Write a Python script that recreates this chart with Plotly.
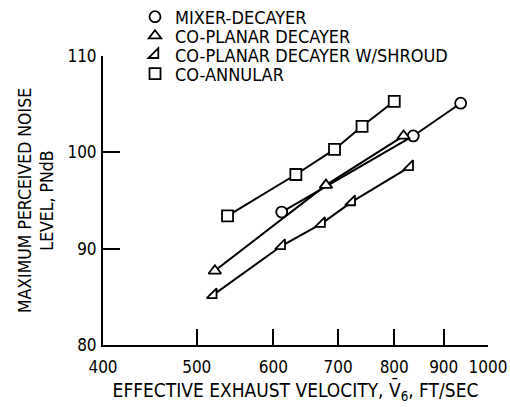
import plotly.graph_objects as go

# Data
mixer_x = [612, 837, 937]
mixer_y = [93.8, 101.7, 105.1]
coplanar_x = [522, 680, 818]
coplanar_y = [87.7, 96.6, 101.7]
shroud_x = [520, 612, 673, 723, 830]
shroud_y = [85.2, 90.3, 92.6, 94.85, 98.5]
coannular_x = [538, 633, 694, 741, 800]
coannular_y = [93.4, 97.7, 100.3, 102.7, 105.3]

series_names = ["MIXER-DECAYER", "CO-PLANAR DECAYER", "CO-PLANAR DECAYER W/SHROUD", "CO-ANNULAR"]
x_ticks = [400, 500, 600, 700, 800, 900, 1000]
y_ticks = [80, 90, 100, 110]

FONT = "DejaVu Sans Condensed, DejaVu Sans, sans-serif"

series = [
    (series_names[0], mixer_x, mixer_y, "circle"),
    (series_names[1], coplanar_x, coplanar_y, "triangle-up"),
    (series_names[2], shroud_x, shroud_y, "triangle-se"),
    (series_names[3], coannular_x, coannular_y, "square"),
]
legend_ids = ["legend", "legend2", "legend3", "legend4"]
legend_rows_px = [17, 36, 55, 74]  # legend row placement (px from top)

W, H = 510, 407
ML, MR, MT, MB = 103, 22, 56, 62
plot_h = H - MT - MB
plot_w = W - ML - MR

fig = go.Figure()
for name, xs, ys, sym in series:
    fig.add_trace(go.Scatter(x=xs, y=ys, mode="lines", line=dict(color="black", width=2),
                             showlegend=False, hoverinfo="skip"))
for (name, xs, ys, sym), lid in zip(series, legend_ids):
    fig.add_trace(go.Scatter(x=xs, y=ys, mode="markers", name=name, legend=lid,
                             marker=dict(symbol=sym, size=11, color="white",
                                         line=dict(color="black", width=1.8))))

legend_x = (175 - 40 - ML) / plot_w
layout_legends = {}
for lid, py in zip(legend_ids, legend_rows_px):
    layout_legends[lid] = dict(x=legend_x, y=(H - MB - py) / plot_h, xanchor="left",
                               yanchor="middle", bgcolor="rgba(0,0,0,0)",
                               font=dict(size=18), itemsizing="trace", borderwidth=0)

fig.update_layout(
    width=W, height=H,
    margin=dict(l=ML, r=MR, t=MT, b=MB, autoexpand=False),
    paper_bgcolor="white", plot_bgcolor="white",
    font=dict(family=FONT, size=17, color="black"),
    xaxis=dict(type="log", range=[2.60206, 3.0], tickvals=x_ticks,
               ticktext=[str(v) for v in x_ticks], ticks="inside", ticklen=16,
               tickwidth=2, tickcolor="black", showline=True, linecolor="black",
               linewidth=2, showgrid=False, zeroline=False, ticklabelstandoff=6,
               title=dict(text="EFFECTIVE EXHAUST VELOCITY, V\u0304<sub>6</sub>, FT/SEC",
                          font=dict(size=19), standoff=4)),
    yaxis=dict(range=[80, 110], tickvals=y_ticks, ticks="inside", ticklen=17,
               tickwidth=2, tickcolor="black", showline=True, linecolor="black",
               linewidth=2, showgrid=False, zeroline=False, ticklabelstandoff=1,
               title=dict(text="MAXIMUM PERCEIVED NOISE<br>LEVEL, PNdB",
                          font=dict(size=17.5), standoff=9)),
    **layout_legends,
)

fig.write_html("out.html")
